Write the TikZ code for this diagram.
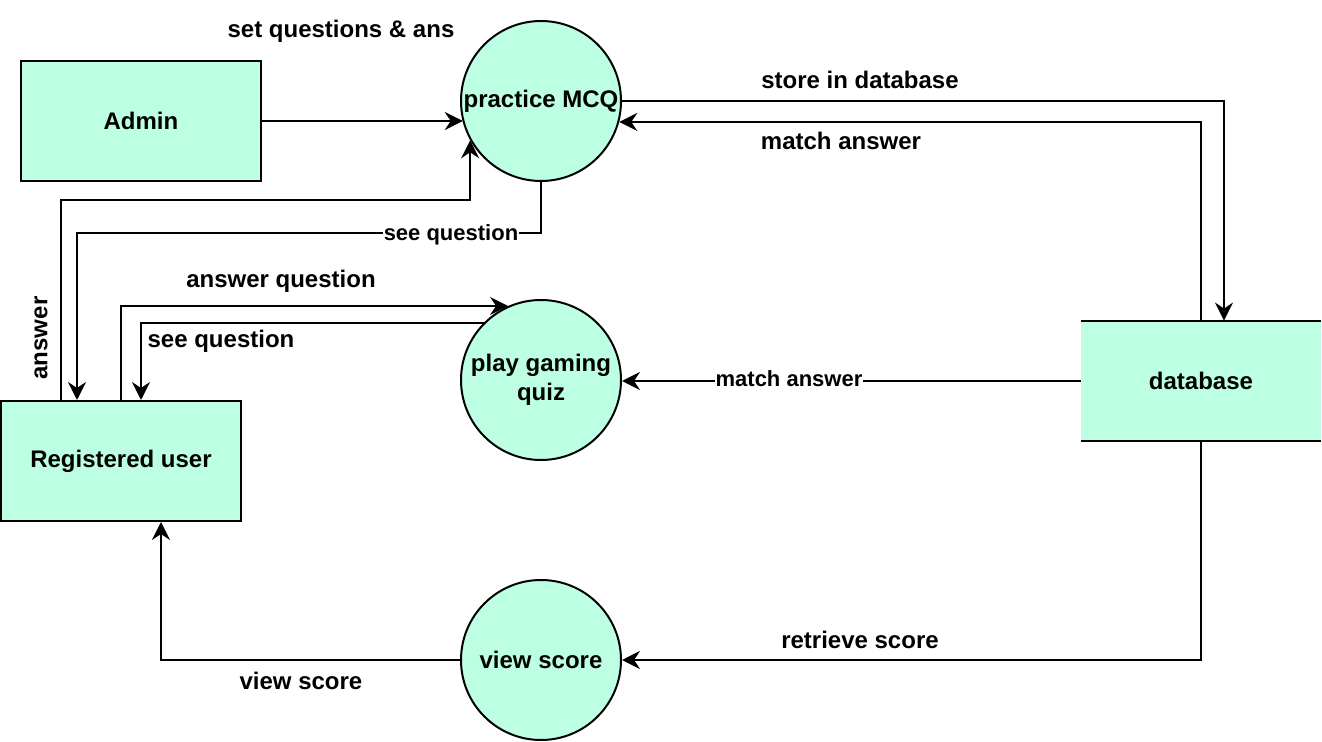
\documentclass[tikz,border=0pt]{standalone}
\usepackage{fontspec}
\setmainfont{Liberation Sans}
\usetikzlibrary{arrows.meta,calc}
\definecolor{mint}{RGB}{188,255,226}
\begin{document}
\begin{tikzpicture}[x=0.5pt,y=-0.5pt,
  every node/.style={font=\bfseries\fontsize{12}{14.5}\selectfont},
  box/.style={draw,line width=1pt,fill=mint,minimum width=120pt,minimum height=60pt,inner sep=0pt},
  proc/.style={circle,draw,line width=1pt,fill=mint,minimum size=80pt,inner sep=0pt,align=center},
  store/.style={fill=mint,minimum width=120pt,minimum height=60pt,inner sep=0pt},
  arr/.style={line width=1pt,-{Stealth[length=9pt,width=9pt,inset=3pt]}},
  lbl/.style={inner sep=1pt},
  slbl/.style={inner sep=0.5pt,fill=white,font=\bfseries\fontsize{11}{13}\selectfont}]
\useasboundingbox (0,0) rectangle (1322,742);
\node[box] (admin) at (141,121) {Admin};
\node[proc] (mcq) at (541,101) {practice MCQ};
\node[box] (user) at (121,461) {Registered user};
\node[proc] (quiz) at (541,380) {play gaming\\quiz};
\node[store] (db) at (1201,381) {database};
\draw[line width=1pt] (db.north west) -- (db.north east);
\draw[line width=1pt] (db.south west) -- (db.south east);
\node[proc] (view) at (541,660) {view score};

% admin -> mcq
\draw[arr] (admin.east) -- (admin.east -| mcq.195);
\node[lbl] (l1) at (341,31) {set questions \& ans};
% mcq -> db
\draw[arr] (mcq.east) -| ($(db.north)+(23,0)$);
\node[lbl] (l2) at (860,80) {store in database};
% db -> mcq
\draw[arr] (db.north) |- (mcq.345);
\node[lbl] (l3) at (841,141) {match answer};
% user -> mcq (answer)
\draw[arr] ($(user.north)+(-60,0)$) -- ++(0,-200) -| (mcq.209);
\node[lbl,rotate=90] (l4) at (41,338) {answer};
% mcq -> user (see question)
\draw[arr] (mcq.south) -- ++(0,51) -| ($(user.north)+(-44,0)$);
\node[slbl] (l5) at (451,235) {see question};
% user -> quiz
\draw[arr] (user.north) |- (quiz.114);
\node[lbl] (l6) at (281,281) {answer question};
% quiz -> user
\draw[arr] (quiz.135) -| ($(user.north)+(20,0)$);
\node[lbl] (l7) at (221,341) {see question};
% db -> quiz
\draw[arr] (db.west) -- (db.west -| quiz.east);
\node[slbl] (l8) at (789,379) {match answer};
% db -> view
\draw[arr] (db.south) |- (view.east);
\node[lbl] (l9) at (860,640) {retrieve score};
% view -> user
\draw[arr] (view.west) -| ($(user.south)+(40,0)$);
\node[lbl] (l10) at (301,681) {view score};
\end{tikzpicture}
\end{document}
